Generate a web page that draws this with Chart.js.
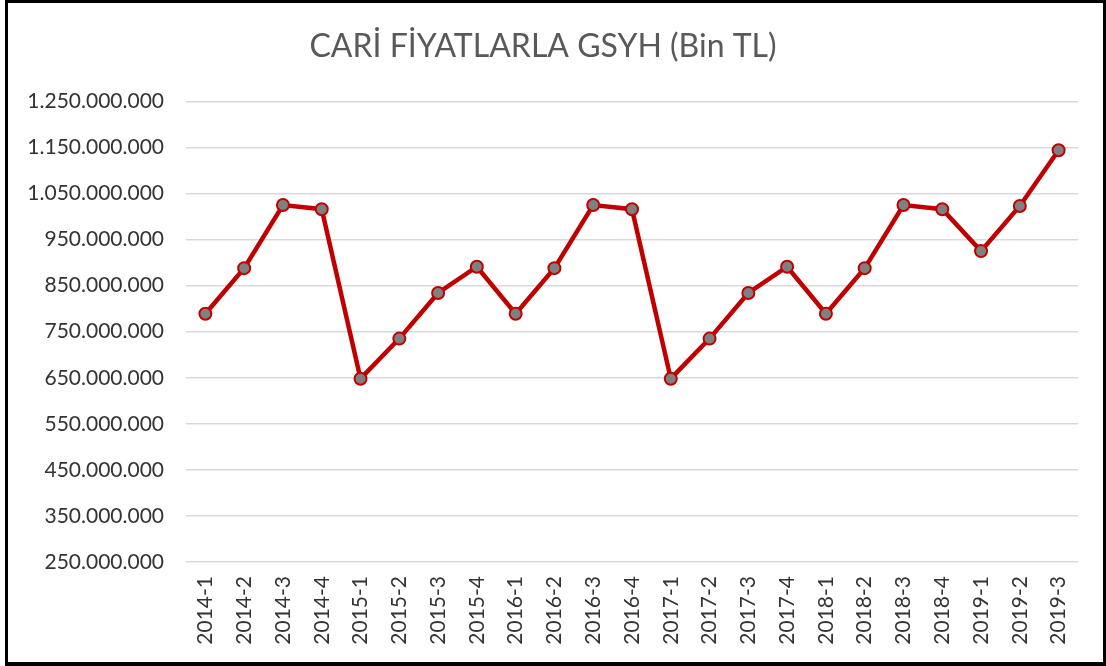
<!DOCTYPE html>
<html>
<head>
<meta charset="utf-8">
<script src="https://cdn.jsdelivr.net/npm/chart.js@4"></script>
<style>
  html, body { margin: 0; padding: 0; background: #fff; }
  #wrap { position: absolute; left: 0; top: 0; width: 1106px; height: 666px; }
  #frame {
    position: absolute; left: 5px; top: 0; width: 1101px; height: 666px;
    box-sizing: border-box; border: 3px solid #000; border-bottom-width: 4px;
    pointer-events: none;
  }
</style>
</head>
<body>
<div id="wrap"><canvas id="chart"></canvas></div>
<div id="frame"></div>
<script>
const labels = [
  '2014-1', '2014-2', '2014-3', '2014-4',
  '2015-1', '2015-2', '2015-3', '2015-4',
  '2016-1', '2016-2', '2016-3', '2016-4',
  '2017-1', '2017-2', '2017-3', '2017-4',
  '2018-1', '2018-2', '2018-3', '2018-4',
  '2019-1', '2019-2', '2019-3'
];
const gsyh = [
  789000000, 888000000, 1025000000, 1016000000,
  648000000, 735000000, 834000000, 891000000,
  789000000, 888000000, 1025000000, 1016000000,
  648000000, 735000000, 834000000, 891000000,
  789000000, 888000000, 1025000000, 1016000000,
  925000000, 1023000000, 1144000000
];
const yMin = 250000000;
const yMax = 1250000000;
const yStep = 100000000;

// 1250000000 -> 1.250.000.000
function fmt(v) {
    return String(Math.round(v)).replace(/\B(?=(\d{3})+(?!\d))/g, '.');
}

const ctx = document.getElementById('chart').getContext('2d');

const chart = new Chart(ctx, {
    type: 'line',
    data: {
        labels: labels,
        datasets: [{
            label: 'GSYH',
            data: gsyh,
            borderColor: '#c00000',
            borderWidth: 4.5,
            pointRadius: 6,
            pointBorderWidth: 2,
            pointBackgroundColor: '#808080',
            pointBorderColor: '#c00000',
            tension: 0
        }]
    },
    options: {
        responsive: true,
        maintainAspectRatio: false,
        animation: false,
        layout: { padding: { left: 8, right: 28, top: 0, bottom: 4 } },
        plugins: {
            legend: { display: false },
            tooltip: { enabled: false },
            title: {
                display: true,
                text: 'CARİ FİYATLARLA GSYH (Bin TL)',
                color: '#595959',
                font: { family: 'Lato', size: 32, weight: 'normal' },
                padding: { top: 27, bottom: 36 }
            }
        },
        scales: {
            x: {
                offset: true,
                grid: { display: false, drawTicks: false },
                border: { display: false },
                ticks: {
                    autoSkip: false,
                    minRotation: 90,
                    maxRotation: 90,
                    padding: 14,
                    color: '#333333',
                    font: { family: 'Lato', size: 21 }
                },
                afterFit: function (s) { s.height = 100; }
            },
            y: {
                min: yMin,
                max: yMax,
                grid: { color: '#d9d9d9', lineWidth: 1.5, drawTicks: false },
                border: { display: false },
                ticks: {
                    stepSize: yStep,
                    padding: 22,
                    color: '#333333',
                    font: { family: 'Lato', size: 21 },
                    callback: function (v) { return fmt(v); }
                },
                afterFit: function (s) { s.width = 178; }
            }
        }
    }
});
</script>
</body>
</html>
